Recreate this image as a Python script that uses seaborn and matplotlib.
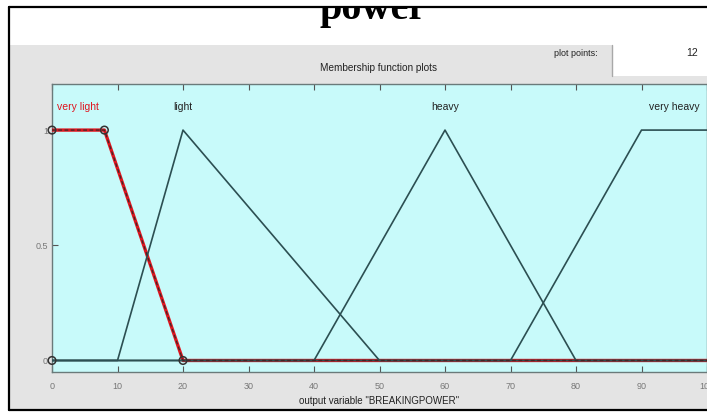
import numpy as np
import pandas as pd
import matplotlib
matplotlib.use("Agg")
import matplotlib.pyplot as plt
from matplotlib.patches import Rectangle
from matplotlib.lines import Line2D
import seaborn as sns

# Membership functions of the output variable "BREAKINGPOWER"
mf_names = ["very light", "light", "heavy", "very heavy"]
mf_types = ["trapmf", "trimf", "trimf", "trapmf"]
mf_params = [
    [0, 0, 8, 20],
    [10, 20, 50],
    [40, 60, 80],
    [70, 90, 100, 100],
]
x_range = [0, 100]
x_ticks = [0, 10, 20, 30, 40, 50, 60, 70, 80, 90, 100]
y_ticks = [0, 0.5, 1]
y_tick_labels = ["0", "0.5", "1"]
selected_mf = "very light"
plot_points = 12
var_name = "BREAKINGPOWER"
fis_title = "power"


def mf_value(kind, p, x):
    """Membership degree of a triangular / trapezoidal function at x."""
    if kind == "trimf":
        a, b, c = p
        p = [a, b, b, c]
    a, b, c, d = p
    if b <= x <= c:
        return 1.0
    if a < x < b:
        return (x - a) / (b - a)
    if c < x < d:
        return (d - x) / (d - c)
    return 0.0


def mf_polyline(kind, p):
    """Corner points of the function over the variable range."""
    xs = sorted(set([x_range[0], x_range[1]] +
                    [v for v in p if x_range[0] <= v <= x_range[1]]))
    return xs, [mf_value(kind, p, v) for v in xs]


rows = []
for name, kind, p in zip(mf_names, mf_types, mf_params):
    xs, ys = mf_polyline(kind, p)
    for i, (xv, yv) in enumerate(zip(xs, ys)):
        rows.append({"mf": name, "order": i, "x": xv, "mu": yv})
df = pd.DataFrame(rows)

sns.set_theme(style="white")
plt.rcParams["font.family"] = ["Liberation Sans", "DejaVu Sans"]

W, H = 707, 413
fig = plt.figure(figsize=(W / 100, H / 100), dpi=100)
fig.patch.set_facecolor("white")


def fx(px):
    return px / W


def fy(py):
    return 1 - py / H


# grey editor panel
fig.patches.append(Rectangle((fx(9), fy(410)), fx(W - 9), (410 - 45) / H,
                             transform=fig.transFigure, facecolor="#e4e4e4",
                             edgecolor="none", zorder=-2))
# white "plot points" entry box
fig.patches.append(Rectangle((fx(612), fy(76)), fx(W - 612), (76 - 45) / H,
                             transform=fig.transFigure, facecolor="white",
                             edgecolor="none", zorder=-1))
fig.add_artist(Line2D([fx(612), fx(612)], [fy(45), fy(76)],
                      transform=fig.transFigure, color="#a8a8a8", lw=1.0, zorder=2))

fig.text(fx(598), fy(53), "plot points:", ha="right", va="center",
         fontsize=6.5, color="#222222")
fig.text(fx(692), fy(53), str(plot_points), ha="center", va="center",
         fontsize=7.5, color="#222222")
fig.text(fx(378), fy(68), "Membership function plots", ha="center", va="center",
         fontsize=7.2, color="#222222")

# FIS name, partly hidden under the window frame
fig.text(fx(373), fy(19), fis_title, ha="center", va="baseline",
         family=["Liberation Serif", "DejaVu Serif"], fontweight="bold",
         fontsize=29, color="black", zorder=3)
fig.patches.append(Rectangle((0, fy(8)), 1, 8 / H, transform=fig.transFigure,
                             facecolor="white", edgecolor="none", zorder=20))

# window frame
for xs_, ys_ in [([9, W], [7, 7]), ([9, 9], [7, 410]), ([9, W], [410, 410])]:
    fig.add_artist(Line2D([fx(v) for v in xs_], [fy(v) for v in ys_],
                          transform=fig.transFigure, color="black", lw=1.6,
                          zorder=21))

# membership function axes
ax = fig.add_axes([fx(52), fy(372), 1 - fx(52), (372 - 84) / H])
ax.set_zorder(5)
ax.set_facecolor("#c8fafa")

others = df[df["mf"] != selected_mf]
sel = df[df["mf"] == selected_mf]

sns.lineplot(data=sel, x="x", y="mu", sort=False, estimator=None,
             color="#e0141e", lw=2.4, ax=ax, zorder=3, legend=False)
sns.lineplot(data=others, x="x", y="mu", units="mf", sort=False, estimator=None,
             color="#2c4f52", lw=1.2, ax=ax, zorder=4, legend=False)
sns.lineplot(data=sel, x="x", y="mu", sort=False, estimator=None,
             color="#3a2a2a", lw=0.9, ls=(0, (3, 2)), ax=ax, zorder=5,
             legend=False)

# vertex handles of the selected function
sel_params = mf_params[mf_names.index(selected_mf)]
handle_x = [sel_params[0], sel_params[1], sel_params[2], sel_params[3]]
handle_y = [0, 1, 1, 0]
sns.scatterplot(x=handle_x, y=handle_y, ax=ax, s=30, facecolor="none",
                edgecolor="#333333", linewidth=1.1, zorder=6, legend=False,
                clip_on=False)

# function labels above each peak
for name, kind, p in zip(mf_names, mf_types, mf_params):
    if kind == "trimf":
        cx = p[1]
    else:
        cx = (p[1] + p[2]) / 2
    ax.text(cx, 1.1, name, ha="center", va="center", fontsize=7.5,
            color="#e0141e" if name == selected_mf else "#222222", zorder=7)

ax.set_xlim(x_range)
ax.set_ylim(-0.05, 1.2)
ax.set_xticks(x_ticks)
ax.set_xticklabels([str(t) for t in x_ticks])
ax.set_yticks(y_ticks)
ax.set_yticklabels(y_tick_labels)
ax.tick_params(axis="x", direction="in", top=True, bottom=True, length=4,
               width=0.8, color="#555555", labelsize=6.5, labelcolor="#777777",
               pad=7)
ax.tick_params(axis="y", direction="in", left=True, right=False, length=4,
               width=0.8, color="#555555", labelsize=6.5, labelcolor="#777777",
               pad=3)
for side in ["left", "bottom", "top", "right"]:
    ax.spines[side].set_color("#6a7a7a")
    ax.spines[side].set_linewidth(1.0)
ax.set_xlabel(f'output variable "{var_name}"', fontsize=7, color="#222222",
              labelpad=4)
ax.set_ylabel("")

fig.savefig("out.png", dpi=100)
